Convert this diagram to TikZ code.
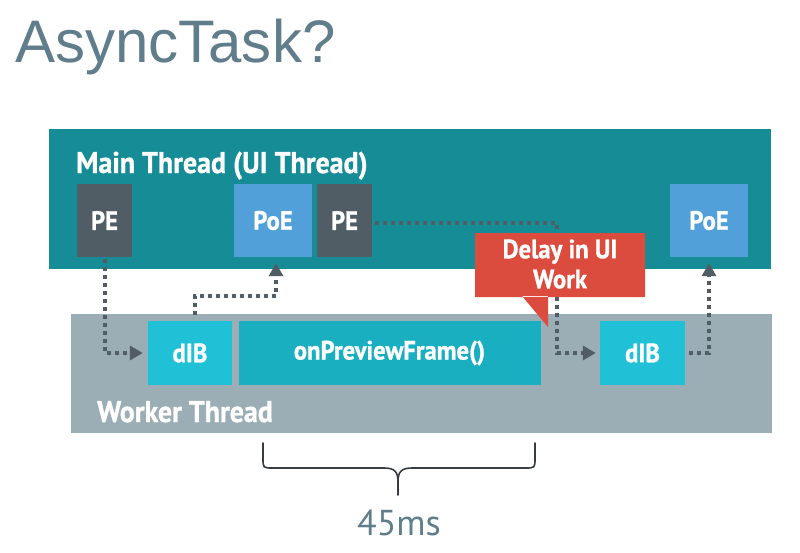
\documentclass[tikz,border=0pt]{standalone}
\usepackage{fontspec}
\setmainfont{PT Sans}
\newfontfamily\condfont[FakeStretch=0.93,BoldFeatures={FakeBold=1}]{PT Sans}
\newfontfamily\titlefont{Liberation Sans}
\usetikzlibrary{arrows.meta}

\definecolor{mainteal}{RGB}{22,140,150}
\definecolor{workergray}{RGB}{155,173,181}
\definecolor{pegray}{RGB}{80,93,100}
\definecolor{poeblue}{RGB}{81,160,218}
\definecolor{dibcyan}{RGB}{32,193,214}
\definecolor{framecyan}{RGB}{26,174,193}
\definecolor{delayred}{RGB}{219,76,63}
\definecolor{titlegray}{RGB}{95,125,138}
\definecolor{bracegray}{RGB}{55,60,64}

\begin{document}
\begin{tikzpicture}[x=1pt,y=-1pt,>={Triangle[length=13pt,width=14pt]},
    threadlabel/.style={anchor=base west,text=white,font=\condfont\bfseries\fontsize{30}{30}\selectfont,inner sep=0pt},
    task/.style={text=white,font=\condfont\bfseries\fontsize{26.5}{26.5}\selectfont,inner sep=0pt,minimum height=73pt},
    work/.style={task,minimum height=64pt},
    flow/.style={->,pegray,line width=4pt,dash pattern=on 4pt off 4pt}]

      \useasboundingbox[fill=white] (0,0) rectangle (800,552);

      \node (title) [anchor=base west,inner sep=0pt,text=titlegray,font=\titlefont\fontsize{60}{60}\selectfont] at (15,62) {AsyncTask?};

      \fill[mainteal] (49,129) rectangle (771,269);
      \fill[workergray] (71,314) rectangle (772,433);

      \node (main) [threadlabel] at (76,173) {Main Thread (UI Thread)};
      \node (worker) [threadlabel] at (97,422) {Worker Thread};

      \node (pe1) [task,fill=pegray,minimum width=55pt] at (104.5,220.5) {PE};
      \node (poe1) [task,fill=poeblue,minimum width=78pt] at (273,220.5) {PoE};
      \node (pe2) [task,fill=pegray,minimum width=55pt] at (344.5,220.5) {PE};
      \node (poe2) [task,fill=poeblue,minimum width=78pt] at (709,220.5) {PoE};

      \node (dib1) [work,fill=dibcyan,minimum width=84pt] at (190,353) {dIB};
      \node (frame) [work,fill=framecyan,minimum width=302pt] at (389.5,353) {onPreviewFrame()};
      \node (dib2) [work,fill=dibcyan,minimum width=85pt] at (642.5,353) {dIB};

      \draw[flow,shorten >=5pt,shorten <=2pt] (pe1.south) |- (dib1.west);
      \draw[flow,shorten >=6pt] (dib1.north) ++(5,-6) -- ++(0,-19) -| ([xshift=3pt]poe1.south);
      \draw[flow,shorten >=4pt,shorten <=3pt] ([yshift=-2pt]pe2.east) -- ++(185,0) |- (dib2.west);
      \draw[flow,shorten >=6pt,shorten <=4pt] (dib2.east) -| (poe2.south);

      \fill[delayred] (475,233) rectangle (645,297)
        (522,296) -- (548,296) -- (548,327) -- cycle;
      \node (delay) [text=white,font=\condfont\bfseries\fontsize{26.5}{30}\selectfont,align=center,inner sep=0pt] at (560,264) {Delay in UI\\Work};

      \draw[bracegray,line width=1.6pt,line cap=round,line join=round]
        (263,443) -- (263,458) .. controls (263,468) .. (273,468) -- (384,468)
        .. controls (395,468) and (398,472) .. (398,482) -- (398,495)
        (535,443) -- (535,458) .. controls (535,468) .. (525,468) -- (412,468)
        .. controls (401,468) and (398,472) .. (398,482);
      \node (span) [anchor=base,inner sep=0pt,text=titlegray,font=\fontsize{36}{36}\selectfont] at (399,535) {45ms};
    \end{tikzpicture}
\end{document}
